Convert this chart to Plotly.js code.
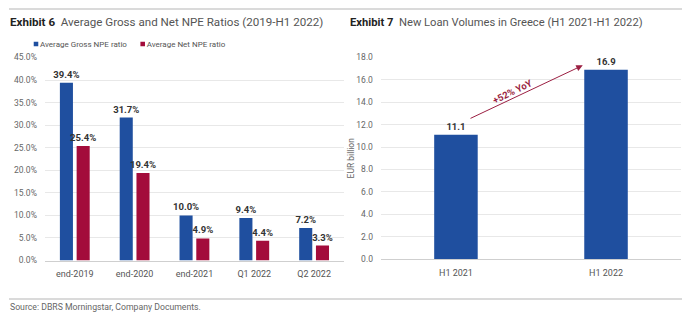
<!DOCTYPE html>
<html>
<head>
<meta charset="utf-8">
<script src="https://cdn.plot.ly/plotly-3.0.1.min.js"></script>
<style>html,body{margin:0;padding:0;background:#fff;}#chart{width:700px;height:326px;}</style>
</head>
<body>
<div id="chart"></div>
<script>
// ---- Data ----
const npeCategories = ['end-2019', 'end-2020', 'end-2021', 'Q1 2022', 'Q2 2022'];
const grossNpe = [39.4, 31.7, 10.0, 9.4, 7.2];
const netNpe = [25.4, 19.4, 4.9, 4.4, 3.3];
const loanCategories = ['H1 2021', 'H1 2022'];
const loanVolumes = [11.1, 16.9];
const leftTitleBold = 'Exhibit 6';
const leftTitle = 'Average Gross and Net NPE Ratios (2019-H1 2022)';
const rightTitleBold = 'Exhibit 7';
const rightTitle = 'New Loan Volumes in Greece (H1 2021-H1 2022)';
const sourceText = 'Source: DBRS Morningstar, Company Documents.';
const yoyText = '+52% YoY';

const FONT = 'Roboto, "Liberation Sans", sans-serif';
const BLUE = '#1f4f9f';
const RED = '#a30c3b';
const ARROW = '#9b1f42';

const labelFont = {family: FONT, size: 9.5, color: '#333', weight: 'bold'};
const traces = [
  {type: 'bar', name: 'Average Gross NPE ratio', x: npeCategories, y: grossNpe,
   xaxis: 'x', yaxis: 'y', marker: {color: BLUE}, legend: 'legend',
   texttemplate: '%{y:.1f}%', textposition: 'outside', constraintext: 'none', cliponaxis: false,
   textfont: labelFont, hoverinfo: 'skip'},
  {type: 'bar', name: 'Average Net NPE ratio', x: npeCategories, y: netNpe,
   xaxis: 'x', yaxis: 'y', marker: {color: RED}, legend: 'legend2',
   texttemplate: '%{y:.1f}%', textposition: 'outside', constraintext: 'none', cliponaxis: false,
   textfont: labelFont, hoverinfo: 'skip'},
  {type: 'bar', name: 'New loan volumes', x: loanCategories, y: loanVolumes,
   xaxis: 'x2', yaxis: 'y2', marker: {color: BLUE}, width: 0.29, showlegend: false,
   texttemplate: '%{y:.1f}', textposition: 'outside', constraintext: 'none', cliponaxis: false,
   textfont: labelFont, hoverinfo: 'skip'}
];

const axisCommon = {
  showgrid: true, gridcolor: '#e8e8e8', gridwidth: 1, zeroline: false,
  showline: false, ticks: '', ticklabelstandoff: 7,
  tickfont: {family: FONT, size: 8.5, color: '#666'}, fixedrange: true
};
const xCommon = {
  showgrid: false, zeroline: false, showline: true, linecolor: '#cfcfcf', linewidth: 1,
  ticks: 'outside', ticklen: 5, tickcolor: 'rgba(0,0,0,0)',
  tickfont: {family: FONT, size: 9, color: '#555'}, fixedrange: true
};
const legendCommon = {orientation: 'h', xanchor: 'left', y: 0.865, yanchor: 'middle',
  font: {family: FONT, size: 8, color: '#555'}, itemwidth: 30, bgcolor: 'rgba(0,0,0,0)'};

const layout = {
  width: 700, height: 326,
  margin: {l: 0, r: 0, t: 0, b: 0},
  paper_bgcolor: '#fff', plot_bgcolor: '#fff',
  font: {family: FONT, color: '#555'},
  barmode: 'group', bargap: 0.44, bargroupgap: 0.22,
  showlegend: true,
  legend: Object.assign({}, legendCommon, {x: -0.003}),
  legend2: Object.assign({}, legendCommon, {x: 0.150}),
  xaxis: Object.assign({}, xCommon, {domain: [43/700, 343/700], anchor: 'y'}),
  yaxis: Object.assign({}, axisCommon, {domain: [0.2009, 0.8236], anchor: 'x', range: [0, 45], dtick: 5,
          tickformat: '.1f', ticksuffix: '%'}),
  xaxis2: Object.assign({}, xCommon, {domain: [380/700, 681/700], anchor: 'y2'}),
  yaxis2: Object.assign({}, axisCommon, {domain: [0.2055, 0.8236], anchor: 'x2', range: [0, 18], dtick: 2,
          tickformat: '.1f',
          title: {text: 'EUR billion', font: {family: FONT, size: 8.5, color: '#666'}, standoff: 0}}),
  shapes: [
    {type: 'line', xref: 'paper', yref: 'paper', x0: 7/700, x1: 682/700, y0: 1-9/326, y1: 1-9/326,
     line: {color: '#b5b5b5', width: 1.2}},
    {type: 'line', xref: 'paper', yref: 'paper', x0: 7/700, x1: 682/700, y0: 1-299/326, y1: 1-299/326,
     line: {color: '#b5b5b5', width: 1.2}}
  ],
  annotations: [
    {xref: 'paper', yref: 'paper', x: 6/700, y: 1-22/326, xanchor: 'left', yanchor: 'middle', showarrow: false,
     text: '<b><span style="color:#222">' + leftTitleBold + '</span></b>  ' + leftTitle,
     font: {family: FONT, size: 11.6, color: '#555'}},
    {xref: 'paper', yref: 'paper', x: 347/700, y: 1-22/326, xanchor: 'left', yanchor: 'middle', showarrow: false,
     text: '<b><span style="color:#222">' + rightTitleBold + '</span></b>  ' + rightTitle,
     font: {family: FONT, size: 11.2, color: '#555'}},
    {xref: 'paper', yref: 'paper', x: 6/700, y: 1-307/326, xanchor: 'left', yanchor: 'middle', showarrow: false,
     text: sourceText, font: {family: FONT, size: 8.7, color: '#666'}},
    // growth arrow between the two bars
    {xref: 'x2', yref: 'y2', axref: 'x2', ayref: 'y2', x: 0.845, y: 17.3, ax: 0.087, ay: 12.5,
     text: '', showarrow: true, arrowhead: 2, arrowsize: 1.3, arrowwidth: 1, arrowcolor: ARROW},
    {xref: 'x2', yref: 'y2', x: 0.375, y: 15.0, showarrow: false, textangle: -26,
     text: '<b>' + yoyText + '</b>', font: {family: FONT, size: 9.5, color: ARROW}}
  ]
};

Plotly.newPlot('chart', traces, layout, {displayModeBar: false, staticPlot: true}).then(function (gd) {
  // shrink legend swatches to small squares placed right before the labels
  gd.querySelectorAll('.legendpoints path').forEach(function (p) {
    p.setAttribute('transform', 'translate(36,0) scale(0.38)');
  });
});
</script>
</body>
</html>
